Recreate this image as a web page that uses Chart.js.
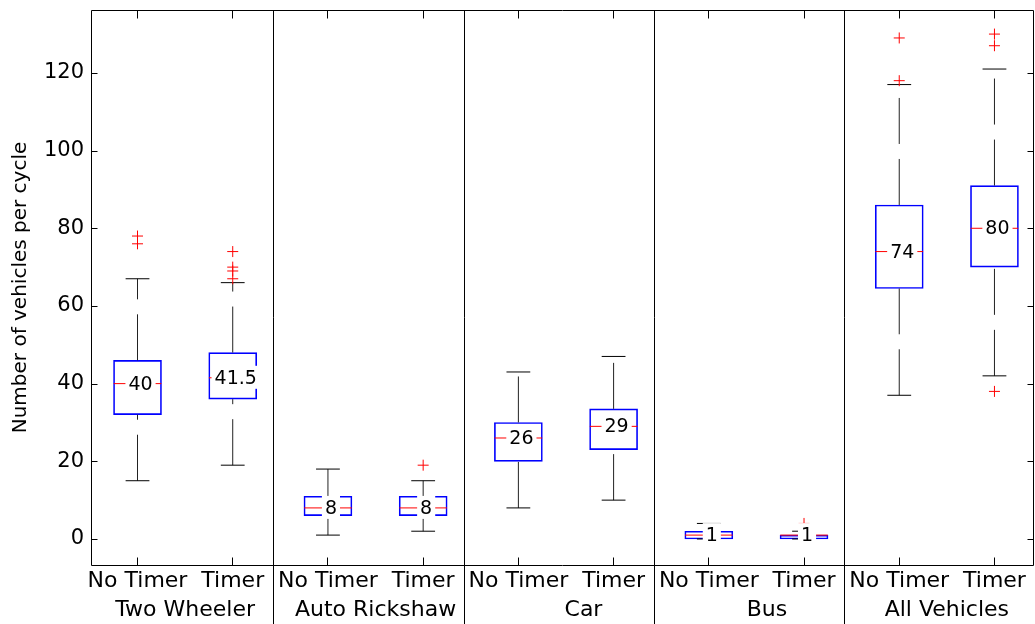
<!DOCTYPE html>
<html>
<head>
<meta charset="utf-8">
<script src="https://cdn.jsdelivr.net/npm/chart.js@4.4.1/dist/chart.umd.min.js"></script>
<style>
  html, body { margin: 0; padding: 0; background: #fff; overflow: hidden; }
  #wrap { position: relative; width: 1040px; height: 624px; }
</style>
</head>
<body>
<div id="wrap"><canvas id="chart"></canvas></div>
<script>
// vehicles per signal cycle, boxplot summary
const positions = [1, 2, 3, 4, 5, 6, 7, 8, 9, 10];
const timerLabels = ['No Timer', 'Timer', 'No Timer', 'Timer', 'No Timer', 'Timer',
                     'No Timer', 'Timer', 'No Timer', 'Timer'];
const groupNames = ['Two Wheeler', 'Auto Rickshaw', '     Car', '   Bus', 'All Vehicles'];
const groupCentres = [1.5, 3.5, 5.5, 7.5, 9.5];
const separators = [2.43, 4.43, 6.43, 8.43];

const whiskerLow  = [15, 19, 1, 2, 8, 10, 0, 0, 37, 42];
const q1          = [32, 36, 6, 6, 20, 23, 0, 0, 64.5, 70];
const medians     = [40, 41.5, 8, 8, 26, 29, 1, 1, 74, 80];
const q3          = [46, 48, 11, 11, 30, 33.5, 2, 1, 86, 91];
const whiskerHigh = [67, 66, 18, 15, 43, 47, 4, 2, 117, 121];
const outliers = [[76, 78], [67, 69, 70, 74], [], [19], [], [], [], [4], [118, 129], [38, 127, 130]];

const yTicks = [0, 20, 40, 60, 80, 100, 120];

const FONT = '"DejaVu Sans", sans-serif';
const X_MIN = 0.522, X_MAX = 10.41;
const Y_MIN = -6.7, Y_MAX = 136.2;
const BOX_HALF = 0.25;   // half box width, in position units
const CAP_HALF = 0.125;

const boxData = positions.map((p, i) => ({ x: p, y: [q1[i], q3[i]] }));

const whiskerData = [];
const capData = [];
const medianData = [];
const outlierData = [];
positions.forEach((p, i) => {
  // both whiskers drawn bottom-up so the dash starts at the lower end
  whiskerData.push({ x: p, y: whiskerLow[i] }, { x: p, y: q1[i] }, { x: p, y: null },
                   { x: p, y: q3[i] }, { x: p, y: whiskerHigh[i] }, { x: p, y: null });
  capData.push({ x: p - CAP_HALF, y: whiskerLow[i] }, { x: p + CAP_HALF, y: whiskerLow[i] }, { x: p + CAP_HALF, y: null },
               { x: p - CAP_HALF, y: whiskerHigh[i] }, { x: p + CAP_HALF, y: whiskerHigh[i] }, { x: p + CAP_HALF, y: null });
  medianData.push({ x: p - BOX_HALF, y: medians[i] }, { x: p + BOX_HALF, y: medians[i] }, { x: p + BOX_HALF, y: null });
  outliers[i].forEach(v => outlierData.push({ x: p, y: v }));
});

const boxplotExtras = {
  id: 'boxplotExtras',
  afterDatasetsDraw(chart) {
    const { ctx, scales: { x, y } } = chart;
    ctx.save();
    ctx.font = '19px ' + FONT;
    ctx.textAlign = 'center';
    ctx.textBaseline = 'middle';
    medians.forEach((m, i) => {
      const cx = x.getPixelForValue(positions[i]) + 3;
      const cy = y.getPixelForValue(m);
      const txt = String(m);
      const w = ctx.measureText(txt).width;
      ctx.fillStyle = '#fff';
      ctx.fillRect(cx - w / 2 - 3, cy - 12, w + 6, 23);
      ctx.fillStyle = '#000';
      ctx.fillText(txt, cx, cy + 1);
    });
    ctx.restore();
  },
  afterDraw(chart) {
    const { ctx, chartArea: a, scales: { x, y } } = chart;
    const L = Math.round(a.left) - 0.5, R = Math.round(a.right) - 0.5;
    const T = Math.round(a.top) + 0.5, B = Math.round(a.bottom) + 0.5;
    ctx.save();
    ctx.strokeStyle = '#000';
    ctx.lineWidth = 1;
    ctx.beginPath();
    ctx.rect(L, T, R - L, B - T);
    separators.forEach(s => {
      const px = Math.floor(x.getPixelForValue(s)) + 0.5;
      ctx.moveTo(px, T);
      ctx.lineTo(px, chart.height);
    });
    yTicks.forEach(v => {
      const py = Math.round(y.getPixelForValue(v)) + 0.5;
      ctx.moveTo(L, py); ctx.lineTo(L + 6, py);
      ctx.moveTo(R, py); ctx.lineTo(R - 6, py);
    });
    positions.forEach(p => {
      const px = Math.floor(x.getPixelForValue(p)) + 0.5;
      ctx.moveTo(px, B); ctx.lineTo(px, B - 8);
      ctx.moveTo(px, T); ctx.lineTo(px, T + 8);
    });
    ctx.stroke();
    ctx.restore();
  }
};

const xTickFont = { family: FONT, size: 22 };

new Chart(document.getElementById('chart'), {
  type: 'bar',
  data: {
    datasets: [
      {
        type: 'scatter', data: outlierData, order: 0,
        pointStyle: 'cross', pointRadius: 5.5, borderColor: '#ff0000', backgroundColor: '#ff0000', borderWidth: 1,
      },
      {
        type: 'line', data: medianData, order: 1,
        borderColor: '#ff0000', borderWidth: 1, pointRadius: 0, fill: false, spanGaps: false,
      },
      {
        type: 'line', data: capData, order: 2,
        borderColor: '#000', borderWidth: 1, pointRadius: 0, fill: false, spanGaps: false,
      },
      {
        type: 'line', data: whiskerData, order: 3,
        borderColor: '#222', borderWidth: 1, borderDash: [46, 15], pointRadius: 0, fill: false, spanGaps: false,
      },
      {
        type: 'bar', data: boxData, order: 4,
        borderColor: '#0000ff', borderWidth: 1, borderSkipped: false,
        backgroundColor: 'rgba(255,255,255,0)', barThickness: 48,
      },
    ],
  },
  options: {
    responsive: true,
    maintainAspectRatio: false,
    animation: false,
    events: [],
    layout: { padding: { left: 9, top: 10, right: 3, bottom: 0 } },
    plugins: { legend: { display: false }, tooltip: { enabled: false } },
    scales: {
      x: {
        type: 'linear', position: 'bottom', weight: 0, min: X_MIN, max: X_MAX, offset: false,
        grid: { display: false, drawTicks: false }, border: { display: false },
        afterBuildTicks: s => { s.ticks = positions.map(v => ({ value: v })); },
        afterFit: s => { s.height = 29; s.paddingLeft = 0; s.paddingRight = 0; },
        ticks: {
          autoSkip: false, maxRotation: 0, minRotation: 0, padding: 3, color: '#000', font: xTickFont,
          callback: (v, i) => timerLabels[i],
        },
      },
      x2: {
        type: 'linear', axis: 'x', position: 'bottom', weight: 1, min: X_MIN, max: X_MAX, offset: false,
        grid: { display: false, drawTicks: false }, border: { display: false },
        afterBuildTicks: s => { s.ticks = groupCentres.map(v => ({ value: v })); },
        afterFit: s => { s.height = 30; s.paddingLeft = 0; s.paddingRight = 0; },
        ticks: {
          autoSkip: false, maxRotation: 0, minRotation: 0, padding: 3, color: '#000', font: xTickFont,
          callback: (v, i) => groupNames[i],
        },
      },
      y: {
        min: Y_MIN, max: Y_MAX,
        grid: { display: false, drawTicks: false }, border: { display: false },
        afterBuildTicks: s => { s.ticks = yTicks.map(v => ({ value: v })); },
        afterFit: s => { s.width = 83; s.paddingTop = 0; s.paddingBottom = 0; },
        ticks: { padding: 8, color: '#000', font: { family: FONT, size: 21 } },
        title: {
          display: true, text: 'Number of vehicles per cycle', color: '#000',
          font: { family: FONT, size: 20 }, padding: { top: 0, bottom: 0 },
        },
      },
    },
  },
  plugins: [boxplotExtras],
});
</script>
</body>
</html>
